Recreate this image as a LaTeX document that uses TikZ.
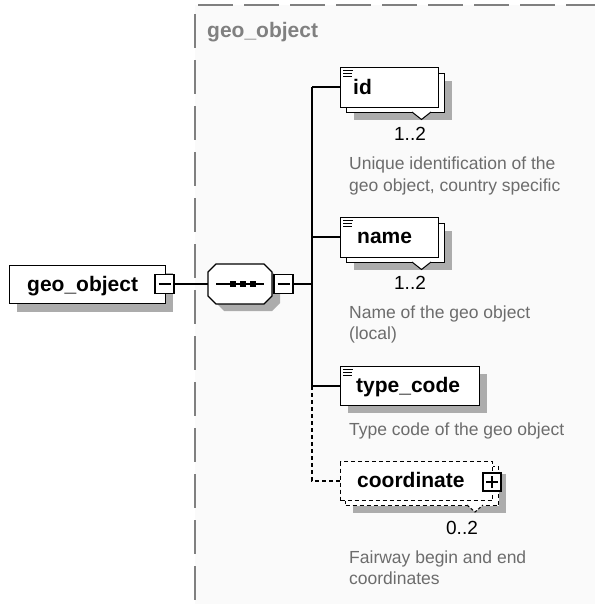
\documentclass[tikz,border=0pt]{standalone}
\usepackage{fontspec}
\setmainfont{Liberation Sans}
\definecolor{framebg}{RGB}{250,250,250}
\definecolor{framegray}{RGB}{128,128,128}
\definecolor{shadowgray}{RGB}{172,172,172}
\definecolor{desccol}{RGB}{108,108,108}
\begin{document}
\begin{tikzpicture}[x=1bp,y=-1bp,
  shade box/.style={fill=shadowgray, draw=none},
  elbox/.style={draw=black, fill=white, line width=1.3bp, inner sep=0pt, anchor=north west},
  optbox/.style={elbox, dash pattern=on 4bp off 3bp},
  togglebox/.style={draw=black, fill=white, line width=1.2bp, inner sep=0pt, minimum size=19bp},
  conn/.style={line width=1.3bp},
  optconn/.style={conn, dash pattern=on 4bp off 3bp},
  lbl/.style={inner sep=0pt, anchor=base west, font=\bfseries\fontsize{21bp}{21bp}\selectfont},
  mult/.style={inner sep=0pt, anchor=base, font=\fontsize{19bp}{19bp}\selectfont},
  desc/.style={inner sep=0pt, anchor=base west, align=left, text=desccol, font=\fontsize{17.5bp}{21.5bp}\selectfont},
  icon/.style={line width=0.9bp},
  notch/.style={fill=white, draw=black, line width=1bp}
]
\useasboundingbox (0,0) rectangle (595,604);
% frame
\fill[framebg] (195,5) rectangle (595,604);
\draw[framegray, line width=1.5bp, dash pattern=on 35bp off 11bp] (198,5) -- (595,5);
\draw[framegray, line width=1.5bp, dash pattern=on 34bp off 12bp] (195,14) -- (195,604);
\node[lbl, text=framegray] (ftitle) at (207,38) {geo\_object};

% root element
\fill[shade box] (17,273) rectangle (173,312);
\node[elbox, minimum width=156bp, minimum height=38bp] (geo) at (9,265) {};
\node[lbl] (geolbl) at (27,291) {geo\_object};
\node[togglebox] (gm) at (164.5,284) {};
\draw[line width=1.2bp] ([xshift=-6bp]gm.center) -- ([xshift=6bp]gm.center);

% sequence compositor
\fill[shade box] (216,280) -- (224,272) -- (272,272) -- (280,280) -- (280,303) -- (272,311) -- (224,311) -- (216,303) -- cycle;
\draw[line width=1.3bp, fill=white] (208,272) -- (216,264) -- (264,264) -- (272,272) -- (272,296) -- (264,304) -- (216,304) -- (208,296) -- cycle;
\coordinate (seqw) at (208,284);
\coordinate (seql) at (216,284);
\coordinate (seqr) at (264,284);
\draw[line width=1.2bp] (seql) -- (seqr);
\foreach \sx in {233,243,253} \fill (\sx-2.8,281.2) rectangle (\sx+2.8,286.8);
\node[togglebox] (sm) at (283.5,284) {};
\draw[line width=1.2bp] ([xshift=-6bp]sm.center) -- ([xshift=6bp]sm.center);

% id
\fill[shade box] (354,81) rectangle (452,120);
\node[elbox, minimum width=98bp, minimum height=39bp] (idb) at (346,73) {};
\draw[notch] (412,112) -- (421.5,119.5) -- (431,112);
\node[elbox, minimum width=98bp, minimum height=40bp] (id) at (340,67) {};
\draw[icon] (343,70.5) -- (353,70.5) (343,73.5) -- (352,73.5) (343,76.5) -- (352,76.5);
\node[lbl] (idl) at (353,95) {id};
\node[mult] (idm) at (410,140.5) {1..2};
\node[desc] (idd) at (349,191.5) {Unique identification of the\\geo object, country specific};

% name
\fill[shade box] (354,231) rectangle (452,270);
\node[elbox, minimum width=98bp, minimum height=39bp] (nameb) at (346,223) {};
\draw[notch] (412,262) -- (421.5,269.5) -- (431,262);
\node[elbox, minimum width=98bp, minimum height=40bp] (name) at (340,217) {};
\draw[icon] (343,220.5) -- (353,220.5) (343,223.5) -- (352,223.5) (343,226.5) -- (352,226.5);
\node[lbl] (namel) at (357,243) {name};
\node[mult] (namem) at (410,289) {1..2};
\node[desc] (named) at (349,339.5) {Name of the geo object\\(local)};

% type_code
\fill[shade box] (348,374) rectangle (487,413);
\node[elbox, minimum width=139bp, minimum height=39bp] (tc) at (340,366) {};
\draw[icon] (343,369.5) -- (353,369.5) (343,372.5) -- (352,372.5) (343,375.5) -- (352,375.5);
\node[lbl] (tcl) at (356,392) {type\_code};
\node[desc] (tcd) at (349,435) {Type code of the geo object};

% coordinate
\fill[shade box] (353,474) rectangle (506,513);
\node[optbox, minimum width=153bp, minimum height=39bp] (coordb) at (345,466) {};
\draw[notch, dash pattern=on 3bp off 2bp] (467,505) -- (475,512) -- (483,505);
\node[optbox, minimum width=152bp, minimum height=39bp] (coord) at (340,461) {};
\node[lbl] (coordl) at (357,487) {coordinate};
\node[togglebox, minimum size=18bp] (pb) at (492,482) {};
\draw[line width=1.2bp] ([xshift=-6bp]pb.center) -- ([xshift=6bp]pb.center) ([yshift=-6bp]pb.center) -- ([yshift=6bp]pb.center);
\node[mult] (coordm) at (462,534) {0..2};
\node[desc] (coordd) at (349,584.5) {Fairway begin and end\\coordinates};

% connectors
\coordinate (t1) at (312,87);
\coordinate (t2) at (312,237);
\coordinate (tm) at (312,284);
\coordinate (t3) at (312,386);
\coordinate (t4) at (312,481);
\draw[conn] (gm.east) -- (seqw);
\draw[conn] (sm.east) -- (tm);
\draw[conn] (t1) -- (t3);
\draw[conn] (t1) -- (id.west |- t1);
\draw[conn] (t2) -- (name.west |- t2);
\draw[conn] (t3) -- (tc.west |- t3);
\draw[optconn] (t3) -- (t4) -- (coord.west |- t4);
\end{tikzpicture}
\end{document}
